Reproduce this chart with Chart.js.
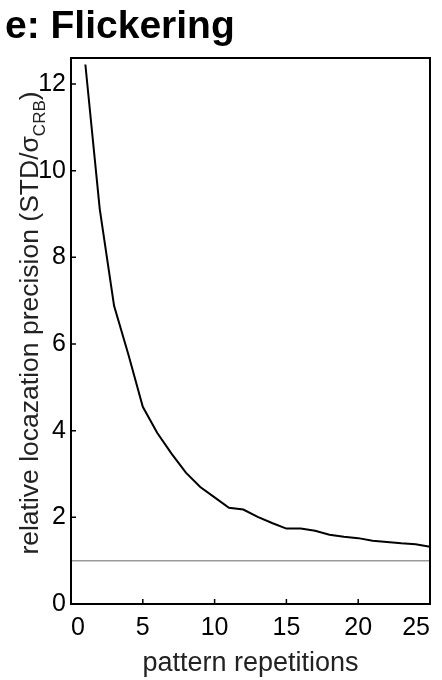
<!DOCTYPE html>
<html>
<head>
<meta charset="utf-8">
<script src="https://cdn.jsdelivr.net/npm/chart.js@4"></script>
<style>
  html, body { margin: 0; padding: 0; background: #fff; }
  #wrap { width: 442px; height: 680px; }
</style>
</head>
<body>
<div id="wrap"><canvas id="grafico" width="442" height="680"></canvas></div>
<script>
const repetitions = [1, 2, 3, 4, 5, 6, 7, 8, 9, 10, 11, 12, 13, 14, 15, 16, 17, 18, 19, 20, 21, 22, 23, 24, 25];
const precision = [12.45, 9.12, 6.88, 5.75, 4.55, 3.95, 3.47, 3.03, 2.70, 2.46, 2.22, 2.18, 2.01, 1.87, 1.74, 1.74, 1.69, 1.60, 1.55, 1.52, 1.46, 1.43, 1.40, 1.38, 1.32];
const crbLevel = [1, 1];
const crbRange = [0, 25];
const xTicks = [0, 5, 10, 15, 20, 25];
const yTicks = [0, 2, 4, 6, 8, 10, 12];

const FONT = "'Liberation Sans', Arial, sans-serif";

// moldura, ticks para dentro, titulo e rotulo do eixo y com subscrito
const extras = {
    id: 'extras',
    afterDraw(chart) {
        const { ctx, chartArea: a, scales } = chart;
        ctx.save();
        ctx.strokeStyle = '#000';
        ctx.lineWidth = 2;
        ctx.strokeRect(a.left, a.top, a.right - a.left, a.bottom - a.top);

        ctx.lineWidth = 1.5;
        ctx.beginPath();
        xTicks.forEach(v => {
            const px = scales.x.getPixelForValue(v);
            ctx.moveTo(px, a.bottom);
            ctx.lineTo(px, a.bottom - 5);
        });
        yTicks.forEach(v => {
            const py = scales.y.getPixelForValue(v);
            ctx.moveTo(a.left, py);
            ctx.lineTo(a.left + 5, py);
        });
        ctx.stroke();

        ctx.fillStyle = '#000';
        ctx.font = 'bold 39px ' + FONT;
        ctx.textBaseline = 'alphabetic';
        ctx.textAlign = 'left';
        ctx.fillText('e: Flickering', 5, 38);

        // rotulo y
        const main = 'relative locazation precision (STD/σ';
        const sub = 'CRB';
        const close = ')';
        ctx.fillStyle = '#222';
        ctx.translate(38, 323);
        ctx.rotate(-Math.PI / 2);
        ctx.font = '26.5px ' + FONT;
        const w1 = ctx.measureText(main).width;
        const w3 = ctx.measureText(close).width;
        ctx.font = '17px ' + FONT;
        const w2 = ctx.measureText(sub).width;
        let x = -(w1 + w2 + w3) / 2;
        ctx.font = '26.5px ' + FONT;
        ctx.fillText(main, x, 0);
        x += w1;
        ctx.font = '17px ' + FONT;
        ctx.fillText(sub, x, 7);
        x += w2;
        ctx.font = '26.5px ' + FONT;
        ctx.fillText(close, x, 0);
        ctx.restore();
    }
};

const ctx = document.getElementById('grafico').getContext('2d');
new Chart(ctx, {
    type: 'line',
    data: {
        datasets: [
            {
                label: 'CRB',
                data: crbRange.map((r, i) => ({ x: r, y: crbLevel[i] })),
                borderColor: '#999',
                borderWidth: 1.5,
                pointRadius: 0,
                tension: 0
            },
            {
                label: 'Flickering',
                data: repetitions.map((r, i) => ({ x: r, y: precision[i] })),
                borderColor: '#000',
                borderWidth: 2,
                pointRadius: 0,
                tension: 0
            }
        ]
    },
    options: {
        responsive: false,
        animation: false,
        layout: { padding: { top: 58, right: 12, left: 0, bottom: 0 } },
        plugins: {
            legend: { display: false },
            tooltip: { enabled: false },
            title: { display: false }
        },
        scales: {
            x: {
                type: 'linear',
                min: 0,
                max: 25,
                afterBuildTicks: s => { s.ticks = xTicks.map(v => ({ value: v })); },
                grid: { display: false, drawTicks: false },
                border: { display: false },
                ticks: {
                    color: '#000',
                    padding: 9,
                    maxRotation: 0,
                    align: 'inner',
                    font: { family: FONT, size: 25 }
                },
                title: {
                    display: true,
                    text: 'pattern repetitions',
                    color: '#222',
                    font: { family: FONT, size: 27 },
                    padding: { top: 3, bottom: 0 }
                },
                afterFit: s => { s.height = 76; s.paddingLeft = 0; s.paddingRight = 0; }
            },
            y: {
                type: 'linear',
                min: 0,
                max: 12.6,
                afterBuildTicks: s => { s.ticks = yTicks.map(v => ({ value: v })); },
                grid: { display: false, drawTicks: false },
                border: { display: false },
                ticks: {
                    color: '#000',
                    padding: 5,
                    font: { family: FONT, size: 25 }
                },
                afterFit: s => { s.width = 71; s.paddingTop = 0; s.paddingBottom = 0; }
            }
        }
    },
    plugins: [extras]
});
</script>
</body>
</html>
